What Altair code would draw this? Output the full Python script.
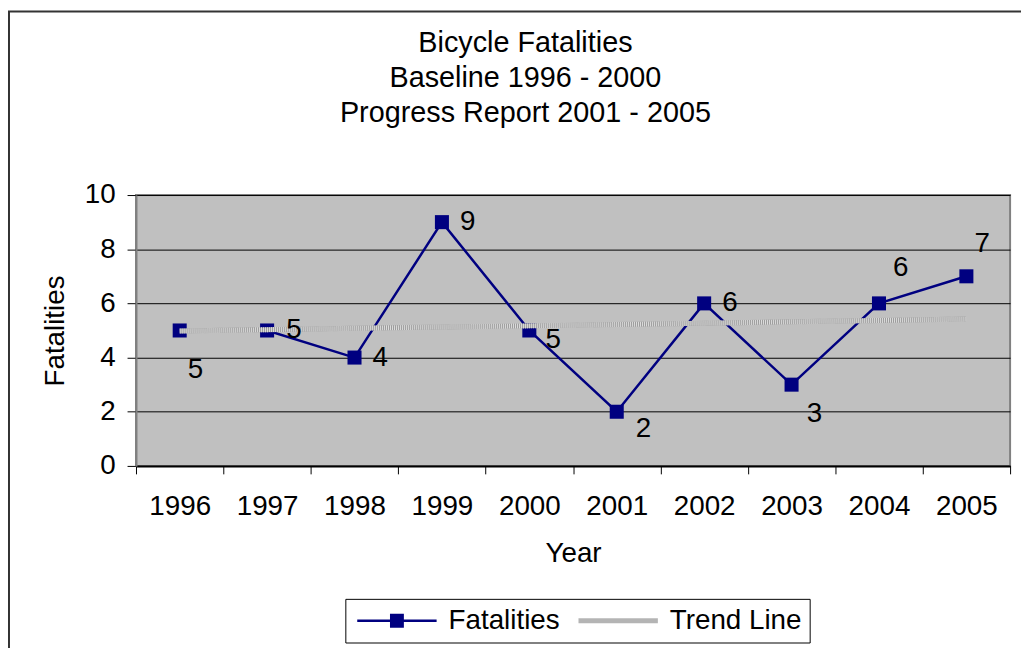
import altair as alt
import pandas as pd

# ---- data ----
years = ["1996", "1997", "1998", "1999", "2000", "2001", "2002", "2003", "2004", "2005"]
fatalities = [5, 5, 4, 9, 5, 2, 6, 3, 6, 7]
trend = [4.98, 5.03, 5.08, 5.13, 5.17, 5.22, 5.27, 5.32, 5.37, 5.42]
series_names = ["Fatalities", "Trend Line"]
title_lines = ["Bicycle Fatalities", "Baseline 1996 - 2000", "Progress Report 2001 - 2005"]
y_ticks = [0, 2, 4, 6, 8, 10]

df = pd.DataFrame({
    "year": years + years,
    "value": fatalities + trend,
    "series": [series_names[0]] * len(years) + [series_names[1]] * len(years),
})

# ---- styling ----
FONT = "Liberation Sans"
NAVY = "#000080"
TREND_DARK = "#9C9C9C"
TREND_LIGHT = "#DCDCDC"
TREND_LEG = "#B4B4B4"
W, H = 881, 273
PAD = {"left": 129, "top": 186, "right": 11, "bottom": 181}

# data-label placement (pixel offsets from the marker), as in the original
label_offsets = {
    "1996": (16, 40), "1997": (27, 0), "1998": (26, 0), "1999": (26, 0),
    "2000": (24, 10), "2001": (27, 17), "2002": (26, 0), "2003": (23, 30),
    "2004": (22, -36), "2005": (16, -33),
}

x_enc = alt.X(
    "year:O",
    scale=alt.Scale(type="band", domain=years, paddingInner=0, paddingOuter=0),
    bandPosition=0.5,
    axis=alt.Axis(
        title="Year", tickBand="extent", labelAngle=0, labelFontSize=28,
        labelPadding=19, tickSize=8, titlePadding=19, domainColor="black",
        domainWidth=2, tickColor="black", grid=False,
    ),
)
y_enc = alt.Y(
    "value:Q",
    scale=alt.Scale(domain=[0, 10], nice=False, zero=True),
    axis=alt.Axis(
        title="Fatalities", values=y_ticks, labelFontSize=28, labelPadding=12,
        tickSize=9, titlePadding=15, domainColor="#808080", domainWidth=2,
        tickColor="black", grid=True, gridColor="black", gridWidth=1,
    ),
)

base = alt.Chart(df).encode(x=x_enc, y=y_enc)
fat = base.transform_filter(alt.datum.series == series_names[0])
trd = base.transform_filter(alt.datum.series == series_names[1])

frame = alt.Chart(alt.Data(values=[{"f": 1}])).mark_rect(
    filled=False, stroke="#333333", strokeWidth=2
).encode(
    x=alt.value(-128), x2=alt.value(W + 30),
    y=alt.value(-185), y2=alt.value(H + PAD["bottom"] + 20),
)

line = fat.mark_line(color=NAVY, strokeWidth=2.5)
points = fat.mark_point(shape="square", filled=True, size=200, color=NAVY, opacity=1)
trend_under = trd.mark_line(color=TREND_DARK, strokeWidth=5)
trend_over = trd.mark_line(color=TREND_LIGHT, strokeWidth=5, strokeDash=[1, 1])

# legend symbols: 20px nominal symbol, path drawn 80px wide to the right
path_fat = "M-1,-0.12H7V0.12H-1Z M2.3,-0.7H3.7V0.7H2.3Z"
path_trd = "M-1,-0.25H7V0.25H-1Z"
leg = alt.Legend(
    orient="none", legendX=211, legendY=407, direction="horizontal", title=None,
    strokeColor="black", fillColor="white", padding=8,
    labelFont=FONT, labelFontSize=28, labelColor="black", labelLimit=0,
    labelOffset=68, columnPadding=14, symbolSize=400, symbolStrokeWidth=0,
    symbolOpacity=1,
)
legend_layer = base.mark_point(filled=True, opacity=0).encode(
    color=alt.Color("series:N", scale=alt.Scale(domain=series_names, range=[NAVY, TREND_LEG]), legend=leg),
    shape=alt.Shape("series:N", scale=alt.Scale(domain=series_names, range=[path_fat, path_trd]), legend=leg),
)

texts = []
for yr, (dx, dy) in label_offsets.items():
    texts.append(
        fat.transform_filter(alt.datum.year == yr).mark_text(
            dx=dx, dy=dy, font=FONT, fontSize=28, color="black", align="center", baseline="middle"
        ).encode(text="value:Q")
    )

chart = alt.layer(frame, line, points, trend_under, trend_over, legend_layer, *texts).properties(
    width=W, height=H,
    title=alt.TitleParams(
        text=title_lines, font=FONT, fontSize=29, fontWeight="normal", color="black",
        lineHeight=35, anchor="middle", dx=-48, offset=0, dy=118,
    ),
    padding=PAD,
    autosize=alt.AutoSizeParams(type="none"),
).configure_view(
    fill="#C0C0C0", stroke="#808080", strokeWidth=2
).configure_axis(
    labelFont=FONT, titleFont=FONT, titleFontSize=28, titleFontWeight="normal",
    labelColor="black", titleColor="black",
)

chart.save("out.html", embed_options={"renderer": "svg", "actions": False})
